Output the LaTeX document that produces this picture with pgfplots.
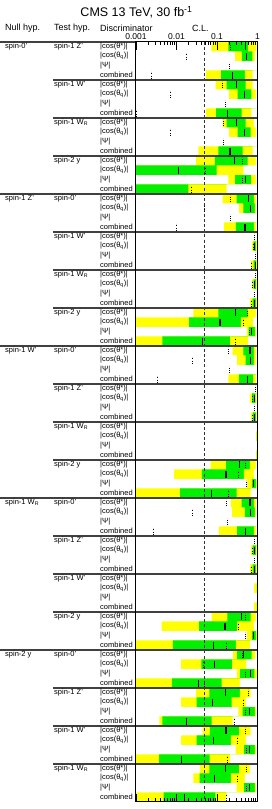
\documentclass[border=0pt]{standalone}
\usepackage{pgfplots}
\usepackage{pgfplotstable}
\pgfplotsset{compat=1.18}
\usepackage{fontspec}
\setmainfont{Liberation Sans}

\definecolor{bandY}{RGB}{255,255,0}
\definecolor{bandG}{RGB}{0,240,0}

% row: 0..79 ; ylo/yhi = yellow band, glo/ghi = green band, med = solid line, dot = dotted line
\pgfplotstableread{
row ylo glo ghi yhi med dot
0 0.0726 0.19 0.59 0.94 0.50 0.21
1 0.28 0.41 0.75 0.86 0.53 0.0176
2 1 1 1 1 0.985 0.205
3 0.0537 0.126 0.488 0.753 0.243 0.00238
4 0.093 0.173 0.507 0.753 0.305 0.138
5 0.20 0.322 0.71 0.91 0.47 0.0070
6 1 1 1 1 0.985 0.163
7 0.0537 0.0945 0.405 0.711 0.183 0.00102
8 0.138 0.173 0.507 0.81 0.305 0.143
9 0.20 0.322 0.673 0.91 0.47 0.0070
10 1 1 1 1 0.985 0.143
11 0.0348 0.108 0.428 0.753 0.21 nan
12 0.0305 0.089 0.568 0.91 0.267 0.42
13 0.001 0.001 0.098 0.445 0.0112 0.0507
14 0.19 0.28 0.70 0.91 0.497 0.42
15 0.001 0.001 0.0197 0.173 nan 0.024
16 0.138 0.305 0.81 0.91 0.59 0.22
17 0.354 0.445 0.859 0.91 0.673 0.048
18 1 1 1 1 0.985 0.22
19 0.149 0.293 0.81 0.91 0.488 0.0102
20 1 1 1 1 0.985 0.86
21 0.725 0.797 0.909 0.962 0.859 0.782
22 1 1 1 1 0.985 0.876
23 0.698 0.797 0.927 0.962 0.876 0.725
24 1 1 1 1 0.985 0.876
25 0.725 0.797 0.927 0.962 0.859 0.767
26 1 1 1 1 0.985 0.843
27 0.66 0.753 0.909 0.962 0.843 0.698
28 0.026 0.108 0.568 0.91 0.288 0.556
29 0.001 0.0205 0.389 0.78 0.118 0.445
30 0.546 0.60 0.876 0.93 0.725 0.623
31 0.001 0.0045 0.21 0.59 0.0436 0.288
32 0.243 0.445 0.81 0.91 0.648 0.19
33 0.316 0.507 0.81 0.91 0.673 0.0252
34 1 1 1 1 0.985 0.198
35 0.19 0.348 0.78 0.91 0.556 0.0034
36 1 1 1 1 0.985 0.87
37 0.648 0.74 0.89 0.945 0.828 0.739
38 1 1 1 1 0.985 0.86
39 0.70 0.78 0.91 0.945 0.86 0.74
40 1 1 1 1 0.99 nan
41 0.93 0.96 0.98 0.99 0.985 nan
42 1 1 1 1 0.99 nan
43 0.93 0.96 0.98 0.99 0.985 nan
44 0.070 0.167 0.648 0.91 0.354 0.516
45 0.0087 0.0421 0.46 0.81 0.167 0.335
46 0.546 0.725 0.909 0.962 0.797 0.526
47 0.001 0.0123 0.305 0.673 0.0738 0.19
48 0.22 0.405 0.81 0.91 0.648 0.173
49 0.238 0.488 0.86 0.91 0.673 0.0248
50 1 1 1 1 0.985 0.183
51 0.112 0.316 0.81 0.91 0.507 0.0027
52 1 1 1 1 0.985 0.86
53 0.70 0.767 0.909 0.962 0.859 0.753
54 1 1 1 1 0.985 0.843
55 0.66 0.753 0.909 0.962 0.843 0.698
56 1 1 1 1 0.99 nan
57 0.82 0.97 0.97 0.97 0.99 nan
58 1 1 1 1 0.99 nan
59 0.82 0.97 0.97 0.97 0.99 nan
60 0.074 0.18 0.673 0.91 0.405 0.507
61 0.0043 0.036 0.316 0.81 0.157 0.335
62 0.546 0.725 0.909 0.962 0.797 0.497
63 0.001 0.0081 0.293 0.66 0.081 0.167
64 0.25 0.316 0.72 0.89 0.453 0.43
65 0.013 0.041 0.238 0.53 0.086 0.046
66 0.31 0.375 0.843 0.962 0.66 0.497
67 0.001 0.0077 0.13 0.368 0.0347 0.048
68 0.0305 0.065 0.368 0.673 0.163 0.59
69 0.013 0.0316 0.23 0.516 0.078 0.46
70 0.335 0.428 0.86 0.91 0.623 0.507
71 0.0038 0.0045 0.074 0.243 0.018 0.277
72 0.0444 0.067 0.354 0.673 0.167 0.507
73 0.013 0.0316 0.22 0.516 0.081 0.316
74 0.288 0.47 0.86 0.91 0.623 0.536
75 0.001 0.0037 0.066 0.21 0.0135 0.18
76 0.038 0.065 0.354 0.648 0.163 0.536
77 0.026 0.037 0.22 0.488 0.086 0.316
78 0.305 0.47 0.86 0.91 0.623 0.536
79 0.001 0.0048 0.091 0.17 0.016 0.176
}\cltable

\pgfdeclareplotmark{dotbar}{%
  \pgfsetdash{{0.9pt}{1.5pt}}{0pt}%
  \pgfpathmoveto{\pgfqpoint{0pt}{-3.6pt}}%
  \pgfpathlineto{\pgfqpoint{0pt}{3.6pt}}%
  \pgfusepathqstroke}

\begin{document}
\begin{tikzpicture}
\useasboundingbox (-136pt,-7pt) rectangle (135pt,802pt);
\begin{axis}[
  at={(0pt,0pt)}, anchor=south west,
  scale only axis, width=121.5pt, height=760pt,
  xmode=log, xmin=0.001, xmax=1,
  ymin=-79.5, ymax=0.5,
  ytick=\empty,
  xtick={0.001,0.01,0.1,1},
  xticklabels={0.001,0.01,0.1,1},
  minor xtick={0.002,0.003,0.004,0.005,0.006,0.007,0.008,0.009,0.02,0.03,0.04,0.05,0.06,0.07,0.08,0.09,0.2,0.3,0.4,0.5,0.6,0.7,0.8,0.9},
  xticklabel pos=upper,
  xtick pos=both,
  tick align=inside,
  major tick length=8pt, minor tick length=3.5pt,
  tick style={black, line width=0.6pt},
  xticklabel style={font=\fontsize{8.5}{9}\selectfont, yshift=-1pt},
  axis line style={line width=1pt},
  axis on top,
  clip=false,
  log origin=0,
  unbounded coords=discard,
]
\addplot[xbar, bar shift=0pt, bar width=9.5pt, fill=bandY, draw=none] table[x=ylo, y expr=-\thisrow{row}] {\cltable};
\addplot[xbar, bar shift=0pt, bar width=9.5pt, fill=bandG, draw=none] table[x=glo, y expr=-\thisrow{row}] {\cltable};
\addplot[xbar, bar shift=0pt, bar width=9.5pt, fill=bandY, draw=none] table[x=ghi, y expr=-\thisrow{row}] {\cltable};
\addplot[xbar, bar shift=0pt, bar width=9.5pt, fill=white, draw=none] table[x=yhi, y expr=-\thisrow{row}] {\cltable};
% C.L. line
\addplot[black!80, line width=0.8pt, dash pattern=on 3pt off 2.2pt] coordinates {(0.05,0.5) (0.05,-79.5)};
% separators
\addplot[black!75, line width=1.1pt, unbounded coords=jump] table {
x y
4.4e-7 0.5
0.001 0.5
nan nan
8.9e-6 -3.5
1 -3.5
nan nan
8.9e-6 -7.5
1 -7.5
nan nan
8.9e-6 -11.5
1 -11.5
nan nan
4.4e-7 -15.5
1 -15.5
nan nan
8.9e-6 -19.5
1 -19.5
nan nan
8.9e-6 -23.5
1 -23.5
nan nan
8.9e-6 -27.5
1 -27.5
nan nan
4.4e-7 -31.5
1 -31.5
nan nan
8.9e-6 -35.5
1 -35.5
nan nan
8.9e-6 -39.5
1 -39.5
nan nan
8.9e-6 -43.5
1 -43.5
nan nan
4.4e-7 -47.5
1 -47.5
nan nan
8.9e-6 -51.5
1 -51.5
nan nan
8.9e-6 -55.5
1 -55.5
nan nan
8.9e-6 -59.5
1 -59.5
nan nan
4.4e-7 -63.5
1 -63.5
nan nan
8.9e-6 -67.5
1 -67.5
nan nan
8.9e-6 -71.5
1 -71.5
nan nan
8.9e-6 -75.5
1 -75.5
};
% median (solid) and dotted markers
\addplot[only marks, mark=|, mark size=3.7pt, mark options={black, line width=1.3pt}] table[x=med, y expr=-\thisrow{row}] {\cltable};
\addplot[only marks, mark=dotbar, mark options={black, line width=1pt}] table[x=dot, y expr=-\thisrow{row}] {\cltable};
\end{axis}

% title and headers
\node[font=\fontsize{12.5}{14}\selectfont] at (0.5pt,789.5pt) {CMS 13 TeV, 30 fb\textsuperscript{-1}};
\tikzset{hdr/.style={anchor=west, inner sep=0pt, font=\fontsize{9}{10}\selectfont}}
\node[hdr] at (-131pt,774pt) {Null hyp.};
\node[hdr] at (-82pt,774pt) {Test hyp.};
\node[hdr] at (-36pt,774pt) {Discriminator};
\node[hdr] at (56pt,774pt) {C.L.};

\tikzset{lab/.style={anchor=west, inner sep=0pt, font=\fontsize{7.5}{8}\selectfont}}
\foreach \g in {0,...,19}{
  \node[lab] at (-36pt,{755.25pt-9.5pt*(4*\g)}) {|cos(θ*)|};
  \node[lab] at (-36pt,{755.25pt-9.5pt*(4*\g+1)}) {|cos(θ\textsubscript{q})|};
  \node[lab] at (-36pt,{755.25pt-9.5pt*(4*\g+2)}) {|Ψ|};
  \node[lab] at (-36pt,{755.25pt-9.5pt*(4*\g+3)}) {combined};
}
\foreach \g/\t in {0/{spin-1 Z'},1/{spin-1 W'},2/{spin-1 W\textsubscript{R}},3/{spin-2 y},
  4/{spin-0'},5/{spin-1 W'},6/{spin-1 W\textsubscript{R}},7/{spin-2 y},
  8/{spin-0'},9/{spin-1 Z'},10/{spin-1 W\textsubscript{R}},11/{spin-2 y},
  12/{spin-0'},13/{spin-1 Z'},14/{spin-1 W'},15/{spin-2 y},
  16/{spin-0'},17/{spin-1 Z'},18/{spin-1 W'},19/{spin-1 W\textsubscript{R}}}{
  \node[lab] at (-82pt,{755.25pt-9.5pt*(4*\g)}) {\t};
}
\foreach \n/\t in {0/{spin-0'},1/{spin-1 Z'},2/{spin-1 W'},3/{spin-1 W\textsubscript{R}},4/{spin-2 y}}{
  \node[lab] at (-131pt,{755.25pt-9.5pt*(16*\n)}) {\t};
}
\end{tikzpicture}
\end{document}
